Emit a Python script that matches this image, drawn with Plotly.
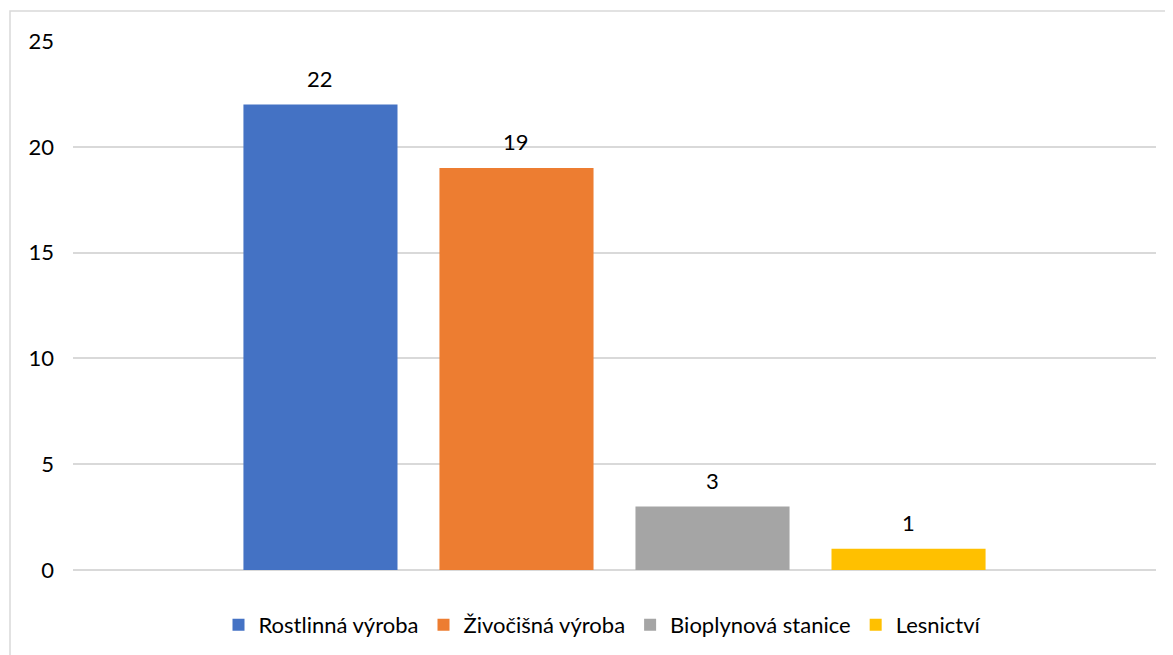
import plotly.graph_objects as go

series = ["Rostlinná výroba", "Živočišná výroba", "Bioplynová stanice", "Lesnictví"]
values = [22, 19, 3, 1]
colors = ["#4472C4", "#ED7D31", "#A5A5A5", "#FFC000"]
category = [""]
y_ticks = [0, 5, 10, 15, 20, 25]

BARGAP = 0.276
GROUPGAP = 0.214

fig = go.Figure()
for name, v, c in zip(series, values, colors):
    fig.add_trace(go.Bar(
        x=category, y=[v], name=name, marker=dict(color=c, line=dict(width=0)),
    ))

# data labels above each bar, positioned via the category axis index scale
n = len(series)
group_w = 1 - BARGAP
for i, v in enumerate(values):
    xc = -group_w / 2 + (i + 0.5) * group_w / n
    fig.add_annotation(x=xc, y=v, xref="x", yref="y", text=str(v), showarrow=False,
                       yanchor="middle", yshift=26, font=dict(size=22, color="#000000"))

W, H = 1173, 655
ml, mr, mt, mb = 65, 25, 33, 93
pw, ph = W - ml - mr, H - mt - mb

fig.update_layout(
    width=W, height=H,
    margin=dict(l=ml, r=mr, t=mt, b=mb),
    paper_bgcolor="white", plot_bgcolor="white",
    barmode="group", bargap=BARGAP, bargroupgap=GROUPGAP,
    font=dict(family="Lato, Open Sans, sans-serif", size=22, color="#000000"),
    showlegend=True,
    legend=dict(orientation="h", x=0.5 - 12 / pw, xanchor="center", y=(562 - 617) / ph, yanchor="middle",
                font=dict(size=22), traceorder="normal"),
    xaxis=dict(showticklabels=False, showgrid=False, zeroline=False, showline=False, ticks="",
               range=[-0.5, 0.5]),
    yaxis=dict(range=[0, 25], tickvals=y_ticks, showgrid=True, gridcolor="#D9D9D9", gridwidth=1.5,
               zeroline=True, zerolinecolor="#D9D9D9", zerolinewidth=1.5,
               showline=False, ticks="", ticklabelstandoff=18, tickfont=dict(size=22)),
    shapes=[dict(type="rect", xref="paper", yref="paper",
                 x0=(2 - ml) / pw, x1=1.1, y0=-0.3, y1=(562 - 3) / ph,
                 line=dict(color="#D9D9D9", width=1.5), fillcolor="rgba(0,0,0,0)", layer="below")],
)

fig.write_html("out.html")
